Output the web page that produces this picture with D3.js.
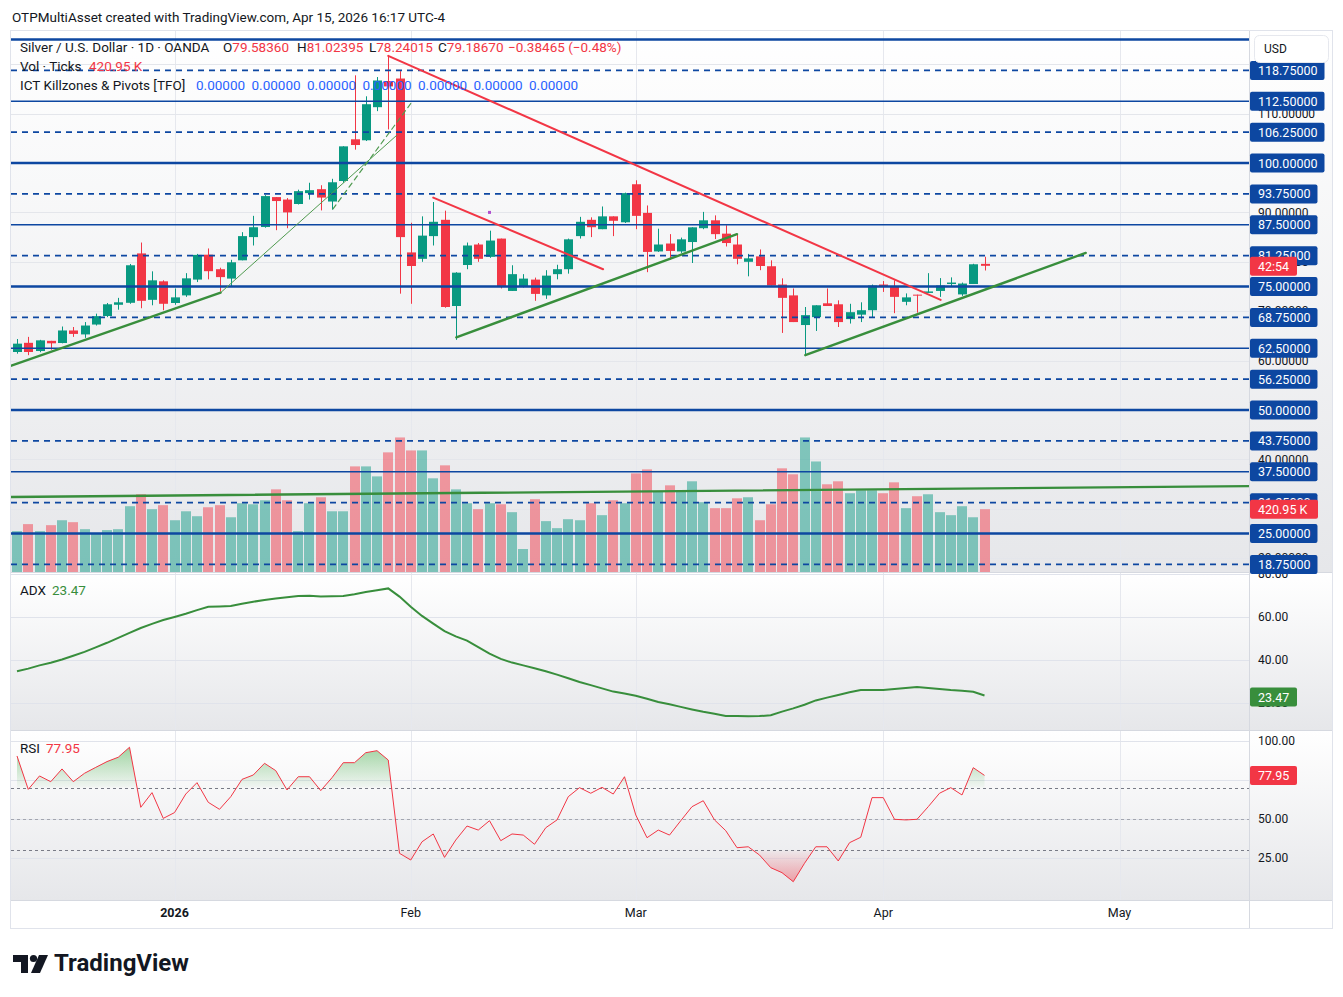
<!DOCTYPE html>
<html>
<head>
<meta charset="utf-8">
<script src="https://cdn.jsdelivr.net/npm/d3@7"></script>
<style>
  body { margin: 0; background: #fff; }
  svg text { font-family: Roboto, "Noto Sans", sans-serif; }
</style>
</head>
<body>
<div id="chart"></div>
<script>
// daily bars, Dec 2025 -> Apr 15 2026 (index 0 = first visible bar)
const opens  = [61.74,63.6,61.94,64.0,63.56,66.1,65.3,67.3,69.03,71.3,71.7,81.7,72.3,76.05,71.66,73.2,76.4,81.44,78.5,76.6,
                80.3,85.0,87.04,93.1,92.6,91.7,93.9,94.7,92.2,96.36,104.8,104.6,111.3,116.6,117.1,81.9,80.6,85.2,88.5,71.05,
                79.35,83.5,81.0,84.7,74.1,75.1,76.4,73.2,77.5,78.5,85.2,88.5,86.6,89.2,88.0,95.7,89.9,82.1,83.7,82.1,
                84.0,86.8,88.4,85.7,83.5,80.0,81.1,79.1,75.4,73.2,67.2,68.8,71.6,71.4,68.4,69.3,70.2,75.4,75.1,71.9,
                73.35,73.7,74.1,75.5,73.4,75.5,79.5836];
const highs  = [64.37,64.8,64.2,64.0,66.9,66.8,67.8,69.5,71.66,72.7,79.56,83.9,78.07,76.25,74.6,77.7,81.6,82.7,78.8,80.4,
                86.0,89.3,93.5,93.1,92.9,94.6,96.0,95.5,96.8,103.4,117.75,113.5,117.4,121.7,118.6,87.9,89.2,92.1,90.35,77.9,
                83.9,83.8,86.3,84.7,79.3,77.5,76.8,78.3,79.4,84.7,89.1,89.0,91.2,89.2,94.0,96.5,91.4,86.7,85.6,84.9,
                87.0,90.1,89.4,87.4,85.6,81.6,82.5,80.3,76.65,74.6,70.85,71.2,74.6,72.2,71.5,71.8,75.4,76.1,76.25,73.6,
                73.35,77.7,76.7,76.85,75.8,79.6,81.02395];
const lows   = [61.4,61.1,61.7,62.2,63.5,64.8,64.6,67.1,68.8,70.3,71.5,70.6,71.2,70.2,71.3,72.9,75.9,76.45,73.95,74.9,
                80.3,83.3,86.9,86.4,86.8,91.6,92.6,90.4,90.55,96.0,102.7,104.45,110.5,106.8,73.55,71.5,80.0,83.3,70.7,64.2,
                78.5,80.0,80.8,74.6,74.1,74.8,72.1,72.5,76.45,77.6,84.7,85.0,86.6,85.2,87.85,86.6,77.9,82.0,80.4,81.8,
                79.76,86.6,84.6,83.1,79.5,77.06,78.3,75.2,65.6,67.8,61.1,66.0,71.05,66.8,67.5,67.8,68.8,73.9,69.6,71.2,
                69.7,73.7,72.9,74.9,73.1,75.5,78.24015];
const closes = [63.43,61.74,64.1,63.5,66.1,65.4,67.1,69.0,71.4,71.8,79.3,72.1,76.25,71.5,72.8,76.65,81.4,78.1,76.9,79.9,
                85.2,87.0,93.3,92.3,90.0,94.3,94.5,93.0,96.1,103.37,103.64,111.9,116.7,115.5,85.0,79.15,85.3,88.1,70.85,77.8,
                83.3,80.6,84.3,75.1,77.5,76.6,73.5,77.2,78.5,84.55,88.1,87.0,89.2,88.3,93.9,89.3,82.0,83.5,82.2,84.55,
                86.98,88.4,85.6,83.8,80.6,80.7,79.15,75.2,72.7,67.8,69.2,71.2,71.05,67.8,69.8,70.2,75.2,74.9,72.9,72.8,
                73.15,74.0,75.2,75.8,75.6,79.5,79.1867];
// volume, thousands of ticks
const volumes = [274,321,274,314,347,334,287,261,281,287,441,521,421,448,347,407,374,434,448,367,
                 461,454,481,554,481,274,461,501,407,407,708,708,641,802,902,815,815,628,715,554,
                 461,421,461,454,401,154,488,341,294,354,347,461,381,481,461,661,688,541,581,541,
                 608,468,428,428,494,501,347,454,695,655,902,741,588,608,528,548,548,528,601,428,
                 508,521,401,381,441,367,420.95];
const adxValues = [34.8,36.0,37.5,38.7,40.2,42.0,43.8,45.9,48.0,50.3,52.6,54.9,56.8,58.6,60.0,61.5,63.2,64.8,64.9,65.1,
                   66.2,67.1,67.9,68.6,69.2,69.8,69.9,69.5,69.6,69.8,70.6,71.6,72.4,73.3,69.5,64.8,60.5,56.9,53.4,51.0,
                   49.0,46.0,43.0,40.5,38.8,37.5,36.2,34.8,33.2,31.5,29.8,28.3,26.8,25.3,24.4,23.4,22.0,20.5,19.4,18.2,
                   17.0,15.9,15.0,14.0,13.9,13.8,13.9,14.3,16.0,17.5,19.2,21.2,22.5,23.7,25.0,26.0,26.1,26.0,26.5,27.0,
                   27.4,27.0,26.5,26.0,25.7,25.2,23.47];
const rsiValues = [90.4,69.0,77.6,73.9,82.1,73.9,79.3,83.1,86.8,89.6,96.0,57.5,66.9,50.4,54.1,66.0,73.3,60.7,56.2,64.3,
                   75.4,78.2,85.7,81.0,68.6,77.1,77.1,68.2,76.5,86.1,86.1,92.5,93.8,87.8,28.0,23.7,35.4,40.4,25.4,36.5,
                   45.5,42.9,48.9,36.1,40.4,39.7,33.8,44.4,49.4,64.3,70.1,66.5,70.3,66.0,77.1,52.6,38.0,42.9,39.7,48.9,
                   57.9,61.7,49.4,42.5,31.6,32.2,26.9,18.8,15.6,9.8,21.6,32.2,32.2,23.1,34.8,38.3,63.7,63.7,49.8,49.4,
                   49.8,57.9,66.5,70.1,65.4,82.9,77.95];

const monthLabels = ["2026", "Feb", "Mar", "Apr", "May"];
const monthIndex  = [14, 35, 55, 77, 98];

const levelPrices = [125, 118.75, 112.5, 106.25, 100, 93.75, 87.5, 81.25, 75, 68.75, 62.5, 56.25, 50, 43.75, 37.5, 31.25, 25, 18.75];
const gridPrices  = [120, 110, 100, 90, 80, 70, 60, 50, 40, 30, 20];
const adxTicks = [80, 60, 40, 20];
const rsiTicks = [100, 75, 50, 25];

// drawn trend lines: [startIndex, startPrice, endIndex, endPrice]
const redLines   = [[33, 121.7, 82.1, 72.3], [37.0, 93.0, 52.1, 78.5]];
const greenLines = [[-0.6, 58.9, 18.1, 73.75], [39.05, 64.7, 64.0, 85.6], [70.07, 61.1, 95.0, 81.8], [-0.6, 32.4, 109.5, 34.6]];
const thinGreen  = [18.1, 73.75, 33.75, 105.6];
const dashGreen  = [28.09, 90.7, 35.1, 112.35];

const W = 1343, H = 997;
const left = 11, right = 1249;
const green = "#089981", red = "#f23645", lvlBlue = "#0d47a1", txt = "#131722";

const svg = d3.select("#chart").append("svg").attr("width", W).attr("height", H);
const defs = svg.append("defs");

const bg = defs.append("linearGradient").attr("id", "paneBg").attr("x1", 0).attr("y1", 0).attr("x2", 0).attr("y2", 1);
bg.append("stop").attr("offset", 0).attr("stop-color", "#ffffff");
bg.append("stop").attr("offset", 1).attr("stop-color", "#e6e7ea");

const panes = {price: [31, 572], adx: [573, 730], rsi: [731, 900]};
Object.entries(panes).forEach(([k, [y0, y1]]) => {
  svg.append("rect").attr("x", left).attr("y", y0).attr("width", 1332 - left).attr("height", y1 - y0).attr("fill", "url(#paneBg)");
  defs.append("clipPath").attr("id", "clip-" + k)
    .append("rect").attr("x", left).attr("y", y0).attr("width", right - left).attr("height", y1 - y0);
});
defs.append("clipPath").attr("id", "clip-adxaxis")
  .append("rect").attr("x", right).attr("y", 573).attr("width", 84).attr("height", 157);

// scales
const x = d3.scaleLinear().domain([0, 86]).range([17, 984.5]);
const yP = d3.scaleLinear().domain([50, 100]).range([410, 163]);
const yV = d3.scaleLinear().domain([0, 905]).range([572, 437]);
const yA = d3.scaleLinear().domain([20, 60]).range([703, 617]);
const yR = d3.scaleLinear().domain([25, 100]).range([858, 741]);
const px = v => Math.round(v) + 0.5;

// vertical month grid
svg.append("g").selectAll("line").data(monthIndex).join("line")
  .attr("x1", d => px(x(d))).attr("x2", d => px(x(d))).attr("y1", 31).attr("y2", 900)
  .attr("stroke", "#e6e8ee").attr("stroke-width", 1);

// price grid
const gP = svg.append("g").attr("clip-path", "url(#clip-price)");
gP.selectAll("line.grid").data(gridPrices).join("line").attr("class", "grid")
  .attr("x1", left).attr("x2", right).attr("y1", d => px(yP(d))).attr("y2", d => px(yP(d)))
  .attr("stroke", "#e4e6eb");

// volume
gP.selectAll("rect.vol").data(volumes).join("rect").attr("class", "vol")
  .attr("x", (d, i) => Math.round(x(i)) - 5).attr("width", 10)
  .attr("y", d => yV(d)).attr("height", d => yV(0) - yV(d))
  .attr("fill", (d, i) => closes[i] >= opens[i] ? green : red).attr("opacity", 0.48);

// candles
const candles = gP.selectAll("g.c").data(closes).join("g").attr("class", "c");
candles.append("line")
  .attr("x1", (d, i) => px(x(i))).attr("x2", (d, i) => px(x(i)))
  .attr("y1", (d, i) => yP(highs[i])).attr("y2", (d, i) => yP(lows[i]))
  .attr("stroke", (d, i) => d >= opens[i] ? green : red);
candles.append("rect")
  .attr("x", (d, i) => Math.round(x(i)) - 4).attr("width", 9)
  .attr("y", (d, i) => yP(Math.max(d, opens[i])))
  .attr("height", (d, i) => Math.max(1, Math.abs(yP(d) - yP(opens[i]))))
  .attr("fill", (d, i) => d >= opens[i] ? green : red);

// level lines
gP.selectAll("line.lvl").data(levelPrices).join("line").attr("class", "lvl")
  .attr("x1", left).attr("x2", right)
  .attr("y1", d => yP(d)).attr("y2", d => yP(d))
  .attr("stroke", lvlBlue)
  .attr("stroke-width", d => d % 25 === 0 ? 2.6 : 1.6)
  .attr("stroke-dasharray", d => d % 12.5 === 0 ? null : "6,5");

// trend lines
const seg = (g, l, col, w, dash) => g.append("line")
  .attr("x1", x(l[0])).attr("y1", yP(l[1])).attr("x2", x(l[2])).attr("y2", yP(l[3]))
  .attr("stroke", col).attr("stroke-width", w).attr("stroke-dasharray", dash || null).attr("stroke-linecap", "round");
redLines.forEach(l => seg(gP, l, red, 2));
greenLines.forEach(l => seg(gP, l, "#388e3c", 2.4));
seg(gP, thinGreen, "#4f9a4f", 1);
seg(gP, dashGreen, "#4f9a4f", 1.2, "5,4");
gP.append("rect").attr("x", x(42) - 1.5).attr("y", yP(90) - 1.5).attr("width", 3).attr("height", 3).attr("fill", "#b04fd0");

// ADX pane
const gA = svg.append("g").attr("clip-path", "url(#clip-adx)");
gA.selectAll("line").data(adxTicks).join("line")
  .attr("x1", left).attr("x2", right).attr("y1", d => px(yA(d))).attr("y2", d => px(yA(d))).attr("stroke", "#e0e3eb");
gA.append("path").datum(adxValues)
  .attr("fill", "none").attr("stroke", "#388e3c").attr("stroke-width", 2)
  .attr("d", d3.line().x((d, i) => x(i)).y(d => yA(d)));

// RSI pane
const gR = svg.append("g").attr("clip-path", "url(#clip-rsi)");
gR.selectAll("line.grid").data(rsiTicks).join("line").attr("class", "grid")
  .attr("x1", left).attr("x2", right).attr("y1", d => px(yR(d))).attr("y2", d => px(yR(d))).attr("stroke", "#e0e3eb");
[[70, "#787b86"], [50, "#a3a6af"], [30, "#787b86"]].forEach(([v, c]) => {
  gR.append("line").attr("x1", left).attr("x2", right).attr("y1", px(yR(v))).attr("y2", px(yR(v)))
    .attr("stroke", c).attr("stroke-dasharray", "3,3");
});
const gUp = defs.append("linearGradient").attr("id", "rsiUp").attr("gradientUnits", "userSpaceOnUse")
  .attr("x1", 0).attr("x2", 0).attr("y1", yR(100)).attr("y2", yR(70));
gUp.append("stop").attr("offset", 0).attr("stop-color", "#4caf50").attr("stop-opacity", 0.6);
gUp.append("stop").attr("offset", 1).attr("stop-color", "#4caf50").attr("stop-opacity", 0.03);
const gDn = defs.append("linearGradient").attr("id", "rsiDn").attr("gradientUnits", "userSpaceOnUse")
  .attr("x1", 0).attr("x2", 0).attr("y1", yR(30)).attr("y2", yR(0));
gDn.append("stop").attr("offset", 0).attr("stop-color", red).attr("stop-opacity", 0.03);
gDn.append("stop").attr("offset", 1).attr("stop-color", red).attr("stop-opacity", 0.6);
defs.append("clipPath").attr("id", "clip-up").append("rect").attr("x", left).attr("y", 731).attr("width", right - left).attr("height", yR(70) - 731);
defs.append("clipPath").attr("id", "clip-dn").append("rect").attr("x", left).attr("y", yR(30)).attr("width", right - left).attr("height", 900 - yR(30));
gR.append("path").datum(rsiValues).attr("clip-path", "url(#clip-up)").attr("fill", "url(#rsiUp)")
  .attr("d", d3.area().x((d, i) => x(i)).y0(yR(70)).y1(d => yR(d)));
gR.append("path").datum(rsiValues).attr("clip-path", "url(#clip-dn)").attr("fill", "url(#rsiDn)")
  .attr("d", d3.area().x((d, i) => x(i)).y0(yR(30)).y1(d => yR(d)));
gR.append("path").datum(rsiValues)
  .attr("fill", "none").attr("stroke", red).attr("stroke-width", 1)
  .attr("d", d3.line().x((d, i) => x(i)).y(d => yR(d)));

// separators and frame
[[left, 572.5, 1332, 572.5], [left, 730.5, 1332, 730.5], [left, 900.5, 1332, 900.5], [right + 0.5, 31, right + 0.5, 929]]
  .forEach(s => svg.append("line").attr("x1", s[0]).attr("y1", s[1]).attr("x2", s[2]).attr("y2", s[3]).attr("stroke", "#d6d9e0"));
svg.append("rect").attr("x", 10.5).attr("y", 30.5).attr("width", 1322).attr("height", 898)
  .attr("fill", "none").attr("stroke", "#e0e3eb");

// right axis: grey ticks
const axis = svg.append("g").attr("font-size", 12).attr("fill", txt);
gridPrices.filter(d => d < 120).forEach(d => {
  axis.append("text").attr("x", 1258).attr("y", yP(d)).attr("dy", "0.35em").text(d.toFixed(5));
});
const adxAxis = axis.append("g").attr("clip-path", "url(#clip-adxaxis)");
adxTicks.forEach(d => adxAxis.append("text").attr("x", 1258).attr("y", yA(d)).attr("dy", "0.35em").text(d.toFixed(2)));
rsiTicks.filter(d => d !== 75).forEach(d => axis.append("text").attr("x", 1258).attr("y", yR(d)).attr("dy", "0.35em").text(d.toFixed(2)));

function axisLabel(yc, label, fill, w) {
  const g = svg.append("g");
  const r = g.append("rect").attr("x", 1250).attr("y", yc - 9.5).attr("height", 19).attr("rx", 2).attr("fill", fill);
  const t = g.append("text").attr("x", 1258).attr("y", yc).attr("dy", "0.36em")
    .attr("font-size", 12.5).attr("fill", "#fff").text(label);
  r.attr("width", w || t.node().getComputedTextLength() + 15);
}
levelPrices.filter(d => d < 125).forEach(d => axisLabel(yP(d), d.toFixed(5), lvlBlue));
axisLabel(yP(closes[86]) + 0.5, "42:54", red, 47);
axisLabel(yV(volumes[86]), "420.95 K", red, 68);
axisLabel(yA(adxValues[86]) + 1.5, "23.47", "#388e3c", 47);
axisLabel(yR(rsiValues[86]), "77.95", red, 47);

// USD box
svg.append("rect").attr("x", 1254.5).attr("y", 35.5).attr("width", 74).attr("height", 27).attr("rx", 5)
  .attr("fill", "#fff").attr("stroke", "#e6e8ee");
svg.append("text").attr("x", 1264).attr("y", 49).attr("dy", "0.35em").attr("font-size", 12).attr("fill", txt).text("USD");

// time axis
svg.append("g").selectAll("text").data(monthLabels).join("text")
  .attr("x", (d, i) => x(monthIndex[i])).attr("y", 913).attr("dy", "0.35em")
  .attr("text-anchor", "middle").attr("font-size", 12.5).attr("fill", txt)
  .attr("font-weight", (d, i) => i === 0 ? 700 : 400).text(d => d);

// header and legends
svg.append("text").attr("x", 12).attr("y", 17).attr("dy", "0.35em").attr("font-size", 13.5).attr("fill", txt)
  .text("OTPMultiAsset created with TradingView.com, Apr 15, 2026 16:17 UTC-4");

const leg = svg.append("g").attr("font-size", 13.5).attr("fill", txt);
const l1 = leg.append("text").attr("x", 20).attr("y", 47).attr("dy", "0.35em");
l1.append("tspan").text("Silver / U.S. Dollar · 1D · OANDA");
[["O", opens[86], 223], ["H", highs[86], 297], ["L", lows[86], 369], ["C", closes[86], 438]].forEach(([k, v, xx]) => {
  l1.append("tspan").attr("x", xx).text(k);
  l1.append("tspan").attr("fill", red).text(v.toFixed(5));
});
l1.append("tspan").attr("x", 508).attr("fill", red).text("−0.38465 (−0.48%)");

const l2 = leg.append("text").attr("x", 20).attr("y", 66).attr("dy", "0.35em");
l2.append("tspan").text("Vol · Ticks");
l2.append("tspan").attr("x", 89).attr("fill", red).text("420.95 K");

const l3 = leg.append("text").attr("x", 20).attr("y", 85).attr("dy", "0.35em");
l3.append("tspan").text("ICT Killzones & Pivots [TFO]");
d3.range(7).forEach(k => l3.append("tspan").attr("x", 196 + k * 55.5).attr("fill", "#2962ff").text("0.00000"));

const l4 = leg.append("text").attr("x", 20).attr("y", 590).attr("dy", "0.35em");
l4.append("tspan").text("ADX");
l4.append("tspan").attr("dx", 6).attr("fill", "#388e3c").text(adxValues[86].toFixed(2));
const l5 = leg.append("text").attr("x", 20).attr("y", 748).attr("dy", "0.35em");
l5.append("tspan").text("RSI");
l5.append("tspan").attr("dx", 6).attr("fill", red).text(rsiValues[86].toFixed(2));

// TradingView logo
const logo = svg.append("g").attr("fill", txt);
logo.append("path").attr("d", "M13 955 h15 v18 h-7 v-11 h-8 z");
logo.append("circle").attr("cx", 33.5).attr("cy", 958.5).attr("r", 3.6);
logo.append("path").attr("d", "M39 955 h9 l-8 18 h-9 z");
logo.append("text").attr("x", 54).attr("y", 963).attr("dy", "0.35em").attr("font-size", 24).attr("font-weight", 700)
  .text("TradingView");
</script>
</body>
</html>
